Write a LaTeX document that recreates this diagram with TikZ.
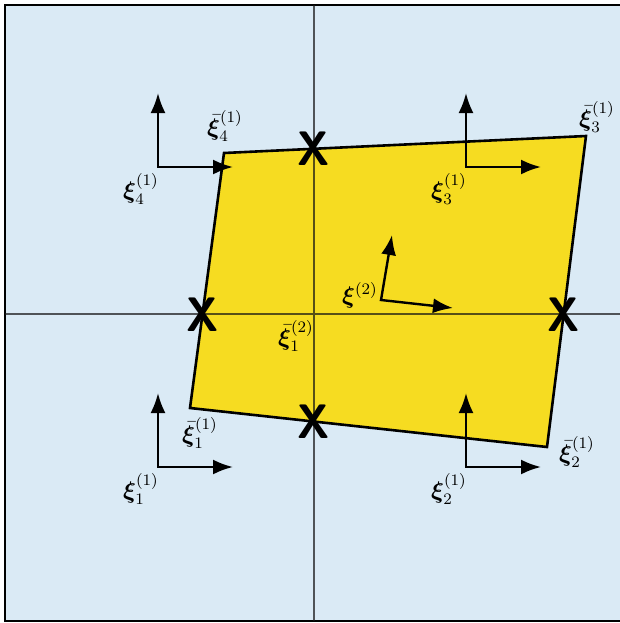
\documentclass[tikz,border=0pt]{standalone}
\definecolor{BgBlue}{RGB}{218,234,245}
\definecolor{ElemYellow}{RGB}{246,220,33}
\definecolor{AxisGray}{RGB}{20,20,20}
\usepackage{amsmath,amssymb,bm}
\usetikzlibrary{arrows.meta,positioning,calc}

\begin{document}
\begin{tikzpicture}[x=0.5pt,y=-0.5pt,
  basis/.style={{Latex[length=10pt,width=7.5pt]}-{Latex[length=10pt,width=7.5pt]},line width=1.2pt,line join=miter},
  lab/.style={font=\large,inner sep=0pt},
  cross/.style={font=\fontsize{22}{22}\selectfont\sffamily\bfseries,inner sep=0pt,yscale=1.1}]
  \useasboundingbox (0,0) rectangle (620,623);
  % background cell
  \draw[fill=BgBlue,line width=1.3pt] (5,5) rectangle (621,621);
  % element
  \coordinate (c1) at (190,408);
  \coordinate (c2) at (547,447);
  \coordinate (c3) at (586,136);
  \coordinate (c4) at (224,153);
  \draw[fill=ElemYellow,line width=1.3pt,line join=miter] (c1) -- (c2) -- (c3) -- (c4) -- cycle;
  % axes
  \coordinate (top) at (314,5);
  \coordinate (bot) at (314,621);
  \coordinate (lft) at (5,314);
  \coordinate (rgt) at (621,314);
  \draw[AxisGray,opacity=0.7,line width=0.6pt] (top) -- (bot) (lft) -- (rgt);
  % edge crossings
  \foreach \i/\px/\py in {w/203/315,n/314/149,e/564/315,s/314/422}
    \node[cross] (x\i) at (\px,\py) {X};
  % coarse frames
  \foreach \n/\ox/\oy in {1/158/467,2/466/467,3/466/167,4/158/167} {
    \coordinate (o\n) at (\ox,\oy);
    \coordinate (u\n) at (\ox,\oy-74);
    \coordinate (r\n) at (\ox+75,\oy);
    \draw[basis] (u\n) -- (o\n) -- (r\n);
    \node[lab] (l\n) at (\ox-17,\oy+22) {$\bm{\xi}_{\n}^{(1)}$};
  }
  % fine frame
  \coordinate (o0) at (381,300);
  \coordinate (u0) at (392,235);
  \coordinate (r0) at (453,308);
  \draw[basis] (u0) -- (o0) -- (r0);
  \node[lab] (l0) at (360,295) {$\bm{\xi}^{(2)}$};
  % corner labels
  \node[lab] (b1) at (200,433) {$\bar{\bm{\xi}}_1^{(1)}$};
  \node[lab] (b2) at (577,452) {$\bar{\bm{\xi}}_2^{(1)}$};
  \node[lab] (b3) at (597,117) {$\bar{\bm{\xi}}_3^{(1)}$};
  \node[lab] (b4) at (225,126) {$\bar{\bm{\xi}}_4^{(1)}$};
  \node[lab] (b0) at (296,336) {$\bar{\bm{\xi}}_1^{(2)}$};
\end{tikzpicture}
\end{document}
